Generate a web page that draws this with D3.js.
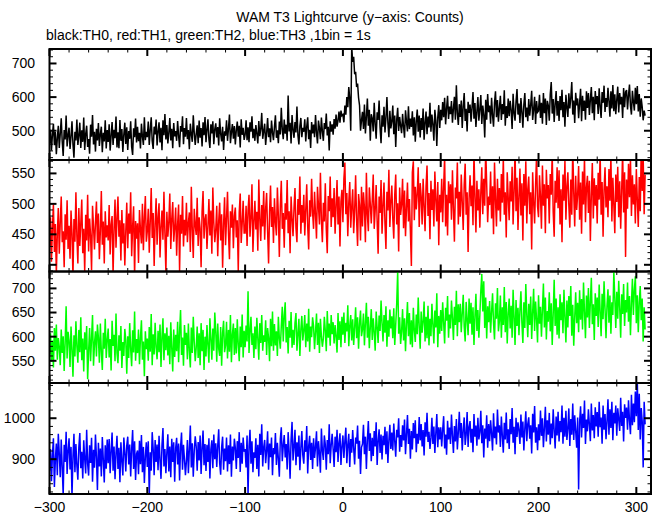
<!DOCTYPE html>
<html><head><meta charset="utf-8">
<script src="https://cdn.jsdelivr.net/npm/d3@7"></script>
<style>body{margin:0;background:#fff}svg{display:block}text{font-family:"Liberation Sans",Arial,Helvetica,sans-serif}</style>
</head><body><svg id="c" width="661" height="515"></svg>
<script>
const titleText = "WAM T3 Lightcurve (y\u2212axis: Counts)";
const subtitleText = "black:TH0, red:TH1, green:TH2, blue:TH3 ,1bin = 1s";
const startTime = -300; // first bin, 1 bin = 1 s
const xTicks = [-300,-200,-100,0,100,200,300];
const seriesNames = ["TH0","TH1","TH2","TH3"];
const seriesColors = ["#000000","#ff0000","#00ff00","#0000ff"];
const yDomains = [[413,743],[389,572],[504,735],[815,1086]];
const yTicks = [[500,600,700],[400,450,500,550],[550,600,650,700],[900,1000]];
const yMinorSteps = [20,10,10,20];

const th0 = [
462,503,441,488,521,457,496,430,478,515,449,491,537,468,425,502,474,545,453,487,
509,446,483,528,460,420,497,471,533,458,486,524,449,501,467,539,443,490,515,452,
475,432,518,482,547,459,497,438,506,471,523,455,489,512,436,494,468,531,447,502,
467,519,441,485,526,458,503,478,542,450,495,448,532,470,505,437,489,524,461,510,
443,499,476,528,452,428,507,481,536,465,512,469,494,447,521,483,458,540,472,497,
481,527,458,503,540,470,446,512,489,533,456,498,525,465,509,442,531,487,550,474,
517,462,494,538,471,506,448,523,483,499,470,529,485,451,514,497,543,460,508,482,
538,475,502,445,521,489,467,546,494,458,491,516,463,530,479,508,453,525,487,541,
466,503,534,475,449,519,492,528,460,505,522,480,511,456,537,491,468,512,443,498,
485,531,470,507,548,463,496,520,476,514,459,502,527,482,515,450,534,488,509,473,
488,531,472,510,466,525,497,543,478,506,470,517,491,462,529,484,505,553,476,499,
521,458,493,538,481,507,466,530,495,472,512,546,479,501,463,527,489,568,504,475,
533,491,518,470,605,498,524,462,547,503,479,526,495,572,487,459,514,538,481,509,
497,534,468,512,540,475,503,449,526,492,518,481,547,495,462,530,508,475,539,498,
470,523,505,551,486,512,441,528,497,519,488,535,506,548,512,530,557,524,560,545,
548,525,575,548,600,570,630,595,500,750,705,720,668,675,630,640,598,575,500,531,
556,505,578,492,541,596,515,562,470,549,537,498,583,521,476,555,532,590,509,463,
546,512,571,495,538,600,523,481,559,507,528,575,490,545,452,533,568,499,541,515,
493,550,512,479,561,527,498,573,505,536,511,558,486,540,467,529,563,497,545,480,
538,502,566,473,524,557,490,542,510,583,497,548,519,470,562,531,455,540,576,508,
562,531,585,540,598,519,567,604,535,572,549,588,524,566,601,533,635,552,517,579,
541,590,508,573,612,529,565,498,586,553,578,527,569,615,536,582,511,557,600,530,
563,606,520,575,548,480,592,533,609,555,575,521,598,546,512,583,617,540,591,527,
568,604,532,579,549,620,515,573,538,596,543,589,561,505,610,552,530,586,624,548,
581,523,597,556,509,578,612,540,569,528,594,545,577,619,532,563,601,520,588,555,
559,607,538,583,521,612,552,596,517,589,575,530,608,645,551,594,526,580,618,545,
588,529,603,561,622,540,585,512,607,570,541,611,566,598,645,548,590,523,613,575,
596,537,582,625,528,604,559,590,533,617,568,612,547,593,630,552,601,531,618,579,
603,550,626,571,538,615,583,634,556,597,571,628,589,542,617,566,636,558,608,549,
592,631,554,612,578,601,538,627,570,615,621,563,605,637,574,548,619,586,560,628,
579,633,557,609,542,596,571,531,560,545];

const th1 = [
430,478,405,462,499,421,467,385,451,493,418,470,512,437,455,396,483,441,506,426,
464,410,489,452,380,475,438,519,447,402,493,431,468,507,419,459,388,482,440,515,
422,476,448,391,497,463,425,470,504,436,484,409,456,521,433,471,402,488,445,465,
440,498,417,466,480,385,459,507,428,476,512,446,473,407,490,435,468,399,455,502,
427,484,451,519,414,463,496,380,472,443,468,403,490,457,435,500,424,477,513,438,
455,492,420,471,526,444,485,398,467,509,433,478,501,412,462,489,441,520,452,386,
487,446,470,517,426,475,503,438,461,494,415,466,499,390,482,451,513,430,474,448,
502,437,469,486,421,528,457,411,492,465,449,510,431,478,460,396,487,521,443,474,
483,426,463,508,448,489,418,527,469,437,458,497,414,471,502,440,483,395,466,511,
432,476,520,452,409,488,461,499,427,480,494,445,473,390,486,517,436,468,505,452,
452,497,431,489,515,446,478,532,421,470,505,458,487,423,540,476,439,498,463,521,
441,492,518,455,402,487,530,462,495,436,509,470,448,527,481,413,496,538,459,485,
428,501,474,539,452,488,419,512,476,447,493,526,460,437,508,482,545,451,498,469,
515,448,490,532,463,425,506,479,541,486,459,520,482,443,528,497,466,551,474,437,
502,471,534,458,419,513,488,545,462,509,478,526,451,497,539,466,512,430,504,523,
470,541,568,483,518,447,502,536,461,495,524,452,489,547,473,431,516,498,440,528,
463,519,494,437,551,482,455,527,500,468,506,548,459,490,531,472,418,512,485,539,
451,497,535,468,426,520,489,556,462,504,530,476,443,515,548,466,501,422,527,482,
499,541,460,522,447,493,535,471,508,455,398,552,570,473,528,491,517,560,462,534,
513,466,541,497,455,529,563,480,518,442,538,490,524,463,553,507,471,536,432,515,
486,541,470,528,578,463,515,448,537,501,532,474,555,492,438,527,509,568,466,520,
479,548,503,457,531,566,482,519,421,508,547,496,530,465,585,512,453,538,489,524,
461,518,560,483,541,497,590,533,470,512,498,553,476,529,450,568,507,463,541,489,
526,471,549,502,576,482,519,445,552,511,473,537,504,561,466,520,588,488,543,457,
512,558,481,534,440,549,497,570,468,523,545,483,519,425,552,503,468,531,580,496,
478,547,512,459,563,497,532,452,556,509,531,468,549,515,583,487,446,538,502,560,
493,555,466,524,437,548,505,571,474,529,552,497,461,540,482,592,519,463,546,490,
515,562,474,535,451,553,499,577,470,527,546,485,538,439,515,567,476,542,497,531,
468,551,507,584,482,536,446,523,560,494,529,478,557,505,579,471,543,498,452,548,
503,561,478,537,459,521,586,486,552,413,540,492,566,511,575,480,547,499,532,468,
557,507,462,544,488,590,521,578,483,548];

const th2 = [
563,607,548,592,536,618,571,625,552,597,579,541,615,566,601,529,588,663,555,610,
592,537,621,574,517,603,559,632,580,546,614,568,640,551,596,528,609,573,622,512,
570,618,549,597,645,540,586,611,559,625,598,546,627,569,531,608,575,637,556,593,
617,557,595,530,633,581,604,549,648,566,545,603,571,622,535,589,560,616,593,523,
601,556,628,574,539,613,567,652,550,595,566,615,543,598,634,552,590,518,611,574,
596,550,620,569,647,541,605,563,629,578,553,612,568,625,537,599,638,551,607,572,
619,561,602,543,630,576,528,615,558,604,570,631,547,610,655,562,598,540,624,583,
608,553,627,571,536,619,566,641,589,549,577,621,556,607,541,628,570,614,531,600,
559,624,583,546,638,597,552,617,571,650,611,548,627,575,560,620,540,608,633,568,
582,631,555,614,569,645,547,605,627,562,618,565,636,584,549,621,578,646,557,612,
578,623,590,694,566,612,641,583,607,556,621,574,639,596,552,628,587,645,571,603,
589,634,562,618,597,549,637,580,652,571,626,582,611,560,641,597,575,622,662,590,
644,671,588,620,565,633,598,651,577,614,583,628,649,571,606,637,560,615,643,592,
613,645,578,627,590,658,569,621,599,640,622,574,610,648,583,629,566,637,601,579,
596,641,612,570,653,598,627,581,645,605,630,586,624,600,567,649,593,632,578,641,
604,650,587,629,611,665,580,622,645,592,636,583,619,661,597,640,575,627,654,601,
615,648,582,629,670,598,641,576,620,657,593,638,609,571,652,620,587,644,612,675,
629,590,645,608,663,579,634,600,656,617,642,597,659,583,625,668,736,606,640,585,
611,657,592,638,570,627,672,601,649,584,634,578,660,613,589,646,605,681,622,575,
652,608,631,673,590,641,597,664,582,637,601,668,625,586,654,619,690,578,643,606,
655,612,671,629,586,660,633,684,598,646,617,675,638,593,662,624,695,601,667,630,
668,609,648,687,621,590,672,635,603,679,627,670,604,661,583,643,689,612,655,598,
645,695,730,652,715,618,681,596,663,630,674,608,651,690,628,594,669,637,701,611,
632,685,598,661,624,703,609,672,586,648,679,617,664,598,697,640,583,676,622,660,
603,655,694,629,587,671,618,709,645,599,668,624,683,595,650,699,612,673,636,588,
686,627,662,600,657,710,619,681,594,653,631,692,611,669,583,647,718,622,679,604,
661,596,688,634,671,607,697,641,588,675,619,684,643,705,602,666,581,639,692,628,
670,609,696,635,678,615,712,651,597,685,640,701,618,672,722,626,667,593,690,643,
681,620,708,652,601,689,636,715,658,597,664,698,629,685,606,671,645,735,679,618,
693,637,716,660,598,688,647,709,622,676,650,712,631,684,603,669,720,645,697,725,
628,686,609,671,705,634,679,590,661,615];

const th3 = [
872,925,846,910,951,832,899,938,861,962,914,856,948,881,812,935,893,967,864,922,
951,875,930,808,906,962,868,937,884,850,929,964,878,918,853,946,901,865,972,889,
860,934,891,952,845,923,879,960,905,825,940,882,926,858,954,899,843,934,877,948,
890,949,866,920,965,872,931,851,914,957,876,928,844,941,896,860,953,917,870,933,
955,887,936,858,925,971,876,944,849,913,921,863,945,888,959,868,930,842,907,941,
881,944,811,917,872,966,925,861,947,893,936,873,957,898,852,934,976,882,925,866,
917,961,870,931,856,950,893,941,845,927,952,887,938,848,929,965,874,935,900,861,
896,947,866,925,982,880,939,857,921,956,931,872,942,897,958,864,928,970,885,937,
871,935,893,951,853,924,946,878,960,900,939,881,932,973,890,862,929,955,874,926,
895,953,870,934,888,960,857,931,897,950,928,876,944,903,966,869,940,889,953,918,
925,880,958,812,931,972,889,944,868,917,903,951,876,935,858,962,910,985,882,929,
947,890,921,968,874,938,905,953,861,927,912,964,886,940,901,857,949,978,895,933,
959,904,937,875,966,920,852,948,991,897,930,972,885,941,906,958,873,927,969,910,
889,946,918,981,865,932,957,898,940,876,951,903,929,968,882,944,915,867,975,921,
898,958,936,874,947,912,985,890,934,962,925,881,955,917,972,893,940,963,886,931,
958,903,944,977,890,935,962,881,949,916,971,926,887,953,938,982,901,945,864,929,
937,984,912,955,876,948,993,920,963,895,952,908,969,931,990,886,944,973,915,960,
899,957,934,979,912,968,891,946,984,925,965,921,987,944,906,972,953,1000,918,959,
930,983,946,997,912,961,1008,937,974,901,969,924,988,951,995,917,962,938,1003,946,
986,931,971,909,990,955,1013,942,967,925,952,1001,937,980,915,964,1010,929,978,948,
978,931,972,1005,926,960,911,994,948,977,937,1009,956,915,981,943,998,924,965,1016,
952,988,921,971,1002,935,960,1015,930,979,993,940,974,917,1010,955,982,933,1001,948,
966,1018,939,983,904,975,950,1007,928,986,944,995,962,921,1012,951,980,936,1021,965,
983,930,1004,957,916,989,948,1014,939,973,925,998,961,1025,940,979,912,1001,954,990,
971,937,1009,953,992,921,975,1017,944,986,1002,950,983,914,1011,965,1030,940,978,922,
985,946,1019,957,1000,929,977,1028,943,995,960,1013,936,987,951,1022,970,926,1004,958,
1016,943,993,966,1031,938,1001,955,1018,947,975,1024,932,998,960,1036,947,1007,969,928,
1002,826,990,1029,953,1011,976,1043,937,997,968,1022,985,944,1036,970,1008,951,1027,980,
1015,955,1040,978,1002,938,1031,972,1010,949,993,1046,960,1022,976,1040,946,1013,987,1031,
957,1024,998,969,1050,981,1016,943,1034,1001,1026,972,1044,995,961,1057,983,1036,990,1065,
1005,1090,971,1060,948,1025,993,880,1040,985];

const allSeries = [th0, th1, th2, th3];

const svg = d3.select("#c");
const left = 49.5, right = 651;
const bounds = [49, 160, 271.5, 383, 494];
const x = d3.scaleLinear().domain([-300, 315]).range([left, right]);
const xMinor = d3.range(-300, 316, 20);

svg.append("text").attr("x", 350).attr("y", 22).attr("text-anchor", "middle")
  .attr("font-size", 14).text(titleText);
svg.append("text").attr("x", 46).attr("y", 40).attr("font-size", 14).text(subtitleText);

allSeries.forEach((vals, k) => {
  const top = bounds[k], bot = bounds[k+1];
  const y = d3.scaleLinear().domain(yDomains[k]).range([bot, top]);
  const g = svg.append("g");
  const cid = "clip" + k;
  svg.append("clipPath").attr("id", cid).append("rect")
    .attr("x", left).attr("y", top).attr("width", right - left).attr("height", bot - top);
  const line = d3.line().x((d, i) => x(startTime + i)).y(d => y(d));
  g.append("path").datum(vals).attr("d", line).attr("fill", "none")
    .attr("stroke", seriesColors[k]).attr("stroke-width", 1.5)
    .attr("clip-path", `url(#${cid})`);

  g.append("rect").attr("x", left).attr("y", top).attr("width", right - left)
    .attr("height", bot - top).attr("fill", "none").attr("stroke", "#000").attr("stroke-width", 2);

  const tk = g.append("g").attr("stroke", "#000");
  xMinor.forEach(v => {
    const major = xTicks.includes(v);
    const L = major ? 7 : 3.5, w = major ? 2 : 1;
    const xp = x(v);
    tk.append("line").attr("x1", xp).attr("x2", xp).attr("y1", top).attr("y2", top + L).attr("stroke-width", w);
    tk.append("line").attr("x1", xp).attr("x2", xp).attr("y1", bot).attr("y2", bot - L).attr("stroke-width", w);
  });
  const step = yMinorSteps[k];
  const yMin = Math.ceil(yDomains[k][0] / step) * step;
  d3.range(yMin, yDomains[k][1] + 0.01, step).forEach(v => {
    const major = yTicks[k].includes(v);
    const L = major ? 7 : 3.5, w = major ? 2 : 1;
    const yp = y(v);
    tk.append("line").attr("x1", left).attr("x2", left + L).attr("y1", yp).attr("y2", yp).attr("stroke-width", w);
    tk.append("line").attr("x1", right).attr("x2", right - L).attr("y1", yp).attr("y2", yp).attr("stroke-width", w);
  });
  yTicks[k].forEach(v => {
    g.append("text").attr("x", 35).attr("y", y(v)).attr("dy", "0.35em")
      .attr("text-anchor", "end").attr("font-size", 14).text(v);
  });
});

xTicks.forEach(v => {
  svg.append("text").attr("x", x(v)).attr("y", 512).attr("text-anchor", "middle")
    .attr("font-size", 14).text(v < 0 ? "\u2212" + Math.abs(v) : v);
});
</script></body></html>
